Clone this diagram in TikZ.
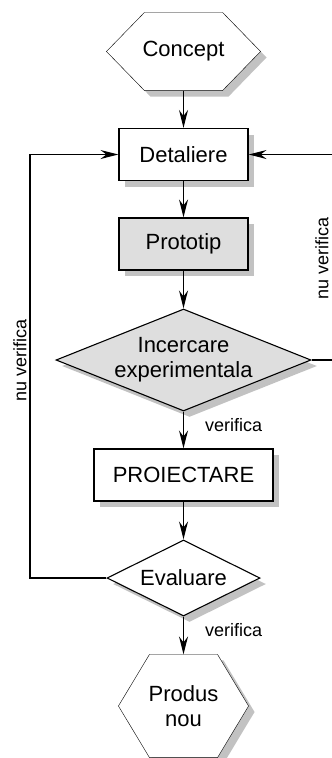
\documentclass[tikz,border=0pt]{standalone}
\usepackage{fontspec}
\setmainfont{Liberation Sans}
\usetikzlibrary{arrows.meta,shapes.geometric,shadows,backgrounds}
\definecolor{shadowgray}{gray}{0.76}
\definecolor{boxgray}{gray}{0.87}

\begin{document}
\begin{tikzpicture}[x=1pt,y=-1pt,line width=1.1pt,
  every node/.style={inner sep=0pt, font=\fontsize{22pt}{25pt}\selectfont},
  sh/.style={drop shadow={shadow xshift=6pt,shadow yshift=-6pt,fill=shadowgray,opacity=1}},
  stepbox/.style={draw, fill=#1, sh, minimum width=129pt, minimum height=52pt},
  stepbox/.default=white,
  decision/.style={shape=diamond, draw, fill=#1, sh, align=center},
  decision/.default=white,
  terminal/.style={align=center},
  hexline/.style={draw, fill=white, sh},
  arr/.style={-{Stealth[length=18pt,width=9pt,inset=6pt]}},
  lbl/.style={font=\fontsize{18pt}{21pt}\selectfont}]
\useasboundingbox (0,0) rectangle (332,758);

% process steps
\node[terminal, minimum width=153pt, minimum height=77pt] (concept) at (183.5,51.5) {Concept};
\node[stepbox] (detaliere) at (183.5,154.5) {Detaliere};
\node[stepbox=boxgray] (prototip) at (183.5,244) {Prototip};
\node[decision=boxgray, aspect=2.5, minimum width=255pt, minimum height=102pt, inner sep=-3pt]
  (incercare) at (183.5,360) {Incercare\\experimentala};
\node[stepbox, minimum width=179pt] (proiectare) at (183.5,475) {PROIECTARE};
\node[decision, aspect=2, minimum width=153pt, minimum height=76pt] (evaluare) at (183.5,578) {Evaluare};
\node[terminal, minimum width=129pt, minimum height=102pt] (produs) at (183.5,706) {Produs\\nou};

% hexagonal start and end shapes, behind their text
\begin{scope}[on background layer]
  \path[hexline] ([xshift=38pt]concept.north west) -- ([xshift=-38pt]concept.north east)
    -- (concept.east) -- ([xshift=-38pt]concept.south east)
    -- ([xshift=38pt]concept.south west) -- (concept.west) -- cycle;
  \path[hexline] ([xshift=31pt]produs.north west) -- ([xshift=-31pt]produs.north east)
    -- (produs.east) -- ([xshift=-31pt]produs.south east)
    -- ([xshift=31pt]produs.south west) -- (produs.west) -- cycle;
\end{scope}

% return lines
\coordinate (loopL) at (30,0);
\coordinate (loopR) at (336,0);

% main flow
\draw[arr] (concept.south) -- (detaliere.north);
\draw[arr] (detaliere.south) -- (prototip.north);
\draw[arr] (prototip.south) -- (incercare.north);
\draw[arr] (incercare.south) -- node[lbl, pos=0.37, anchor=west, xshift=21pt] {verifica} (proiectare.north);
\draw[arr] (proiectare.south) -- (evaluare.north);
\draw[arr] (evaluare.south) -- node[lbl, pos=0.36, anchor=west, xshift=21pt] {verifica} (produs.north);

% feedback loops
\draw[arr] (evaluare.west) -- (loopL |- evaluare.west) -- (loopL |- detaliere.west) -- (detaliere.west);
\draw[arr] (incercare.east) -- (loopR |- incercare.east) -- (loopR |- detaliere.east) -- (detaliere.east);
\node[lbl, rotate=90] (nuL) at (20,360) {nu verifica};
\node[lbl, rotate=90] (nuR) at (322,258) {nu verifica};
\end{tikzpicture}
\end{document}
